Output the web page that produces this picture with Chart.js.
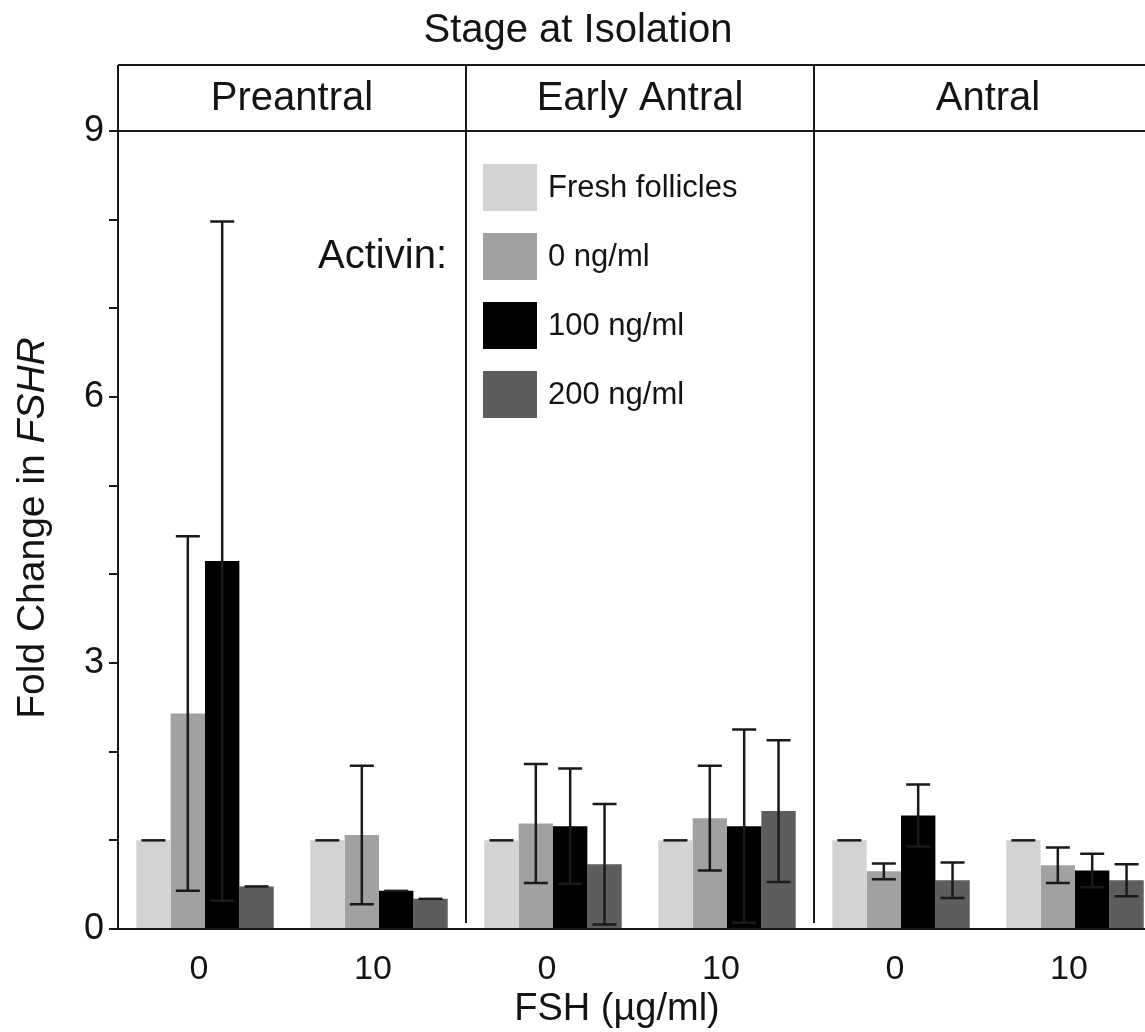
<!DOCTYPE html>
<html><head><meta charset="utf-8">
<script src="https://cdn.jsdelivr.net/npm/chart.js@4.4.0/dist/chart.umd.min.js"></script>
<style>html,body{margin:0;padding:0;overflow:hidden;background:#fff;width:1145px;height:1032px}canvas{display:block}</style>
</head><body>
<canvas id="c" width="1170" height="1032"></canvas>
<script>
const categories = ['0', '10', '0', '10', '0', '10'];
const stages = ['Preantral', 'Early Antral', 'Antral'];
const seriesLabels = ['Fresh follicles', '0 ng/ml', '100 ng/ml', '200 ng/ml'];
const fresh    = [1.00, 1.00, 1.00, 1.00, 1.00, 1.00];
const freshErr = [0, 0, 0, 0, 0, 0];
const act0     = [2.43, 1.06, 1.19, 1.25, 0.65, 0.72];
const act0Err  = [2.00, 0.78, 0.67, 0.59, 0.09, 0.20];
const act100   = [4.15, 0.43, 1.16, 1.16, 1.28, 0.66];
const act100Err= [3.83, 0, 0.65, 1.09, 0.35, 0.19];
const act200   = [0.48, 0.34, 0.73, 1.33, 0.55, 0.55];
const act200Err= [0, 0, 0.68, 0.80, 0.20, 0.18];
const yTicksShown = [0, 3, 6, 9];
const mainTitle = 'Stage at Isolation';
const xTitle = 'FSH (\u00b5g/ml)';
const yTitleA = 'Fold Change in ';
const yTitleB = 'FSHR';
const legendTitle = 'Activin:';

const colors = ['#d3d3d3', '#a1a1a1', '#000000', '#5d5d5d'];
const FONT = "'Liberation Sans', Arial, sans-serif";
const INK = '#141414';

const decor = {
  id: 'decor',
  afterDatasetsDraw(chart) {
    const ctx = chart.ctx, ys = chart.scales.y;
    ctx.save();
    ctx.strokeStyle = '#1a1a1a';
    ctx.lineWidth = 2.5;
    const cap = 12;
    chart.data.datasets.forEach((ds, i) => {
      const meta = chart.getDatasetMeta(i);
      meta.data.forEach((bar, j) => {
        const v = ds.data[j], e = ds.errors[j];
        const x = bar.x;
        const t = ys.getPixelForValue(v + e);
        const b = ys.getPixelForValue(Math.max(0, v - e));
        ctx.beginPath();
        if (e > 0) { ctx.moveTo(x, t); ctx.lineTo(x, b); }
        ctx.moveTo(x - cap, t); ctx.lineTo(x + cap, t);
        if (e > 0) { ctx.moveTo(x - cap, b); ctx.lineTo(x + cap, b); }
        ctx.stroke();
      });
    });
    ctx.restore();
  },
  afterDraw(chart) {
    const ctx = chart.ctx, a = chart.chartArea, xs = chart.scales.x;
    const n = chart.data.labels.length;
    const cw = (a.right - a.left) / n;
    const boxTop = a.top - 66;
    ctx.save();
    ctx.strokeStyle = '#1a1a1a';
    ctx.lineWidth = 2;
    ctx.beginPath();
    ctx.moveTo(a.left, boxTop); ctx.lineTo(a.right, boxTop);
    ctx.moveTo(a.left, a.top); ctx.lineTo(a.right, a.top);
    ctx.moveTo(a.left, boxTop); ctx.lineTo(a.left, a.top);
    ctx.moveTo(a.right, boxTop); ctx.lineTo(a.right, a.bottom);
    for (let k = 1; k < stages.length; k++) {
      const dx = xs.getPixelForValue(2 * k - 1) + cw / 2;
      ctx.moveTo(dx, boxTop); ctx.lineTo(dx, a.bottom - 6);
    }
    ctx.stroke();
    ctx.fillStyle = INK;
    ctx.textAlign = 'center';
    ctx.textBaseline = 'middle';
    ctx.font = '40px ' + FONT;
    stages.forEach((s, k) => {
      const cx = (xs.getPixelForValue(2 * k) + xs.getPixelForValue(2 * k + 1)) / 2;
      ctx.fillText(s, cx, (boxTop + a.top) / 2 + 1);
    });
    ctx.fillText(mainTitle, 578, 31);
    ctx.font = '38px ' + FONT;
    ctx.fillText(xTitle, 617, 1010);
    // y title
    ctx.save();
    ctx.translate(33, (a.top + a.bottom) / 2 - 2);
    ctx.rotate(-Math.PI / 2);
    ctx.font = '39px ' + FONT;
    const wA = ctx.measureText(yTitleA).width;
    ctx.font = 'italic 39px ' + FONT;
    const wB = ctx.measureText(yTitleB).width;
    const start = -(wA + wB) / 2;
    ctx.textAlign = 'left';
    ctx.font = '39px ' + FONT;
    ctx.fillText(yTitleA, start, 0);
    ctx.font = 'italic 39px ' + FONT;
    ctx.fillText(yTitleB, start + wA, 0);
    ctx.restore();
    // legend
    const lx = 483, ly = 164, step = 69;
    chart.data.datasets.forEach((ds, i) => {
      ctx.fillStyle = ds.backgroundColor;
      ctx.fillRect(lx, ly + i * step, 54, 47);
      ctx.fillStyle = INK;
      ctx.textAlign = 'left';
      ctx.font = '31px ' + FONT;
      ctx.fillText(ds.label, lx + 65, ly + i * step + 24);
    });
    ctx.textAlign = 'right';
    ctx.font = '40px ' + FONT;
    ctx.fillText(legendTitle, 447, ly + step + 24);
    ctx.restore();
  }
};

const seriesData = [fresh, act0, act100, act200];
const seriesErr = [freshErr, act0Err, act100Err, act200Err];

new Chart(document.getElementById('c'), {
  type: 'bar',
  data: {
    labels: categories,
    datasets: seriesLabels.map((lab, i) => ({
      label: lab,
      data: seriesData[i],
      errors: seriesErr[i],
      backgroundColor: colors[i],
      borderWidth: 0,
      barPercentage: 1.0,
      categoryPercentage: 0.79
    }))
  },
  options: {
    responsive: false,
    animation: false,
    devicePixelRatio: 1,
    layout: { padding: { top: 131, right: 8, left: 0, bottom: 0 } },
    plugins: { legend: { display: false }, tooltip: { enabled: false }, title: { display: false } },
    scales: {
      x: {
        afterFit(s) { s.height = 103; },
        grid: { display: false },
        border: { display: true, color: '#1a1a1a', width: 2 },
        ticks: { color: INK, font: { family: FONT, size: 34 }, padding: 12, labelOffset: -6, maxRotation: 0, autoSkip: false }
      },
      y: {
        min: 0, max: 9,
        afterFit(s) { s.width = 118; },
        grid: { display: true, drawOnChartArea: false, drawTicks: true, tickLength: 9, color: '#1a1a1a', lineWidth: 2 },
        border: { display: true, color: '#1a1a1a', width: 2 },
        ticks: {
          stepSize: 1, autoSkip: false, padding: 5, color: INK,
          font: { family: FONT, size: 36 },
          callback: v => yTicksShown.includes(v) ? String(v) : ''
        }
      }
    }
  },
  plugins: [decor]
});
</script>
</body></html>
